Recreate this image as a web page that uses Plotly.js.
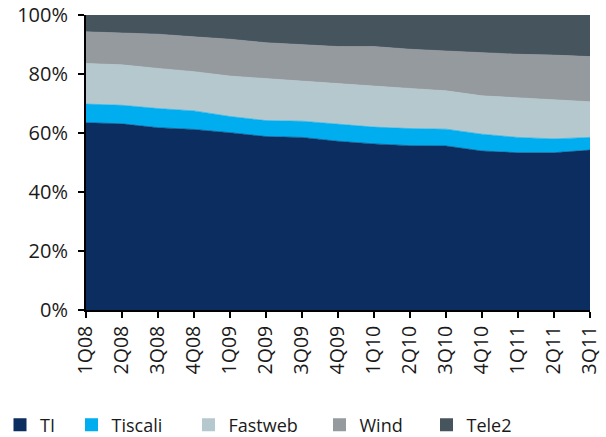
<!DOCTYPE html>
<html><head><meta charset="utf-8">
<script src="https://cdn.plot.ly/plotly-3.0.1.min.js"></script>
<style>html,body{margin:0;padding:0;background:#fff;}#chart{width:606px;height:437px;}</style>
</head><body><div id="chart"></div>
<script>
const quarters = ["1Q08","2Q08","3Q08","4Q08","1Q09","2Q09","3Q09","4Q09","1Q10","2Q10","3Q10","4Q10","1Q11","2Q11","3Q11"];
const TI      = [63.5,63.1,61.8,61.2,60.1,58.8,58.5,57.2,56.3,55.7,55.6,53.9,53.3,53.3,54.2];
const Tiscali = [6.3,6.3,6.5,6.3,5.5,5.4,5.5,5.8,5.7,5.8,5.7,5.7,5.2,4.7,4.3];
const Fastweb = [13.8,13.7,13.6,13.3,13.7,14.2,13.7,13.8,13.9,13.6,13.0,13.0,13.4,13.4,12.1];
const Wind    = [10.7,10.9,11.6,11.8,12.5,12.2,12.3,12.5,13.4,13.3,13.5,14.6,14.8,15.0,15.3];
const Tele2   = [5.7,6.0,6.5,7.4,8.2,9.4,10.0,10.7,10.7,11.6,12.2,12.8,13.3,13.6,14.1];
const seriesNames = ["TI","Tiscali","Fastweb","Wind","Tele2"];
const seriesData = [TI, Tiscali, Fastweb, Wind, Tele2];
const colors = ["#0c2d5f","#00adef","#b4c8ce","#959a9f","#46545e"];
const legendPx = [18.5, 103.5, 220.5, 351.5, 458.5];

const FONT = "Open Sans, DejaVu Sans, sans-serif";
const traces = [];
seriesData.forEach((vals, i) => {
  traces.push({
    x: quarters, y: vals.map(v => v/100), type: "scatter", mode: "lines",
    stackgroup: "one", name: seriesNames[i], showlegend: false,
    line: {width: 0.6, color: colors[i]}, fillcolor: colors[i], hoverinfo: "skip"
  });
});
seriesNames.forEach((n, i) => {
  traces.push({
    x: [null], y: [null], type: "scatter", mode: "markers", name: n,
    marker: {symbol: "square", size: 13, color: colors[i]},
    legend: i === 0 ? "legend" : "legend" + (i+1), showlegend: true
  });
});

const layout = {
  width: 606, height: 437,
  margin: {l: 86, r: 16, t: 15, b: 127},
  paper_bgcolor: "#fff", plot_bgcolor: "#fff",
  font: {family: FONT, size: 20, color: "#1a1a1a"},
  xaxis: {
    type: "category", range: [0, 14], showgrid: false, zeroline: false, automargin: false,
    showline: true, linecolor: "#000", linewidth: 2,
    ticks: "outside", ticklen: 6, tickwidth: 2, tickcolor: "#000",
    tickangle: -90, tickfont: {family: FONT, size: 19.5, color: "#1a1a1a"}
  },
  yaxis: {
    range: [0, 1], tickformat: ".0%", dtick: 0.2, showgrid: false, zeroline: false, automargin: false,
    showline: true, linecolor: "#000", linewidth: 2,
    ticks: "outside", ticklen: 6, tickwidth: 2, tickcolor: "#000",
    ticklabelstandoff: 6, tickfont: {family: FONT, size: 20, color: "#1a1a1a"}
  }
};
seriesNames.forEach((n, i) => {
  const key = i === 0 ? "legend" : "legend" + (i+1);
  layout[key] = {
    xref: "container", yref: "container",
    x: (legendPx[i] - 32) / 606, xanchor: "left",
    y: 1 - 425/437, yanchor: "middle", orientation: "h",
    bgcolor: "rgba(0,0,0,0)", borderwidth: 0,
    font: {family: FONT, size: 18, color: "#1a1a1a"}
  };
});

Plotly.newPlot("chart", traces, layout, {displayModeBar: false, staticPlot: true});
</script></body></html>
